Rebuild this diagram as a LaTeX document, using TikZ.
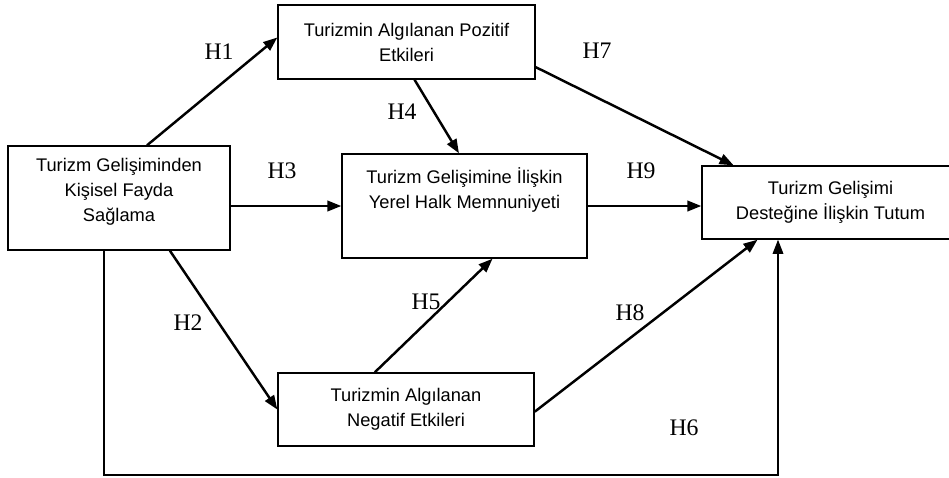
\documentclass[tikz,border=0pt]{standalone}
\usepackage{fontspec}
\setmainfont{Liberation Serif}
\newfontfamily\boxfont{Liberation Sans}
\usetikzlibrary{arrows.meta, positioning}

\begin{document}
\begin{tikzpicture} [x = 0.02cm, y = -0.02cm,
  kutu/.style = {draw, line width = 0.8pt, align = center, inner sep = 2pt,
    font = \boxfont\fontsize{10.4}{14.2}\selectfont},
  hyp/.style = {font = \fontsize{13.5}{15}\selectfont, inner sep = 0pt},
  ok/.style = {line width = 1.4pt, -{Triangle[length = 8pt, width = 6pt]}},
  ince/.style = {line width = 0.8pt, -{Triangle[length = 8pt, width = 6pt]}}]
\useasboundingbox (0,0) rectangle (949,477);
\node[kutu, minimum width = 4.44cm, minimum height = 2.08cm, text depth = 8.8pt] (pers) at (119,198) {Turizm Gelişiminden\\ Kişisel Fayda\\ Sağlama};
\node[kutu, minimum width = 5.14cm, minimum height = 1.48cm] (poz) at (406.5,42) {Turizmin Algılanan Pozitif\\ Etkileri};
\node[kutu, minimum width = 4.9cm, minimum height = 2.08cm, text depth = 20pt] (sat) at (464.5,206) {Turizm Gelişimine İlişkin\\ Yerel Halk Memnuniyeti};
\node[kutu, minimum width = 5.14cm, minimum height = 1.46cm] (tut) at (830.5,202.5) {Turizm Gelişimi\\ Desteğine İlişkin Tutum};
\node[kutu, minimum width = 5.12cm, minimum height = 1.46cm] (neg) at (406,409.5) {Turizmin Algılanan\\ Negatif Etkileri};
% hipotez etiketleri
\node[hyp] (h1) at (219,52) {H1};
\node[hyp] (h2) at (188,323) {H2};
\node[hyp] (h3) at (282,171) {H3};
\node[hyp] (h4) at (402,112) {H4};
\node[hyp] (h5) at (426,302) {H5};
\node[hyp] (h6) at (684,428) {H6};
\node[hyp] (h7) at (597,51) {H7};
\node[hyp] (h8) at (630,313) {H8};
\node[hyp] (h9) at (641,171) {H9};
\coordinate (h6a) at (104,475);
\coordinate (h6b) at (778,475);
\draw[ok] (pers.62) -- (poz.178);
\draw[ok] (pers.-46) -- (neg.west);
\draw[ok] (pers.east |- sat.west) -- (sat.west);
\draw[ok] (poz.-78) -- (sat.96);
\draw[ok] (neg.130) -- (sat.-62);
\draw[ok] (poz.-11) -- (tut.159);
\draw[ok] (neg.-1) -- (tut.-153);
\draw[ok] (sat.east) -- (tut.west |- sat.east);
\draw[ince] (pers.south -| h6a) |- (h6b) -- (h6b |- tut.south);
\end{tikzpicture}
\end{document}
